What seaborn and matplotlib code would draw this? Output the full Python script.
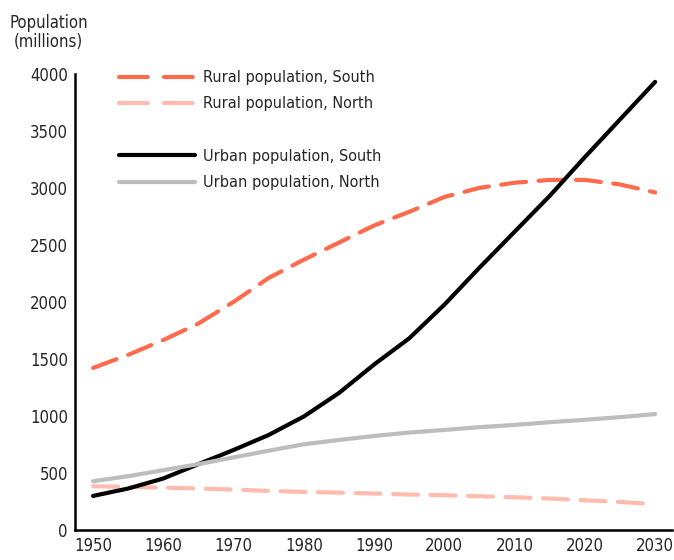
import pandas as pd
import matplotlib.pyplot as plt
import matplotlib.lines as mlines
import seaborn as sns

# Data (millions)
years = list(range(1950, 2031, 5))
rural_south = [1420, 1535, 1665, 1810, 2000, 2210, 2370, 2520, 2670, 2790,
               2920, 3000, 3045, 3070, 3070, 3030, 2960]
rural_north = [382, 376, 370, 362, 353, 341, 332, 326, 318, 309,
               303, 294, 285, 274, 259, 244, 224]
urban_south = [297, 362, 450, 576, 700, 832, 994, 1200, 1450, 1680,
               1975, 2300, 2615, 2930, 3270, 3600, 3930]
urban_north = [426, 470, 523, 576, 635, 694, 750, 788, 823, 853,
               876, 900, 920, 944, 965, 988, 1015]

labels = ["Rural population, South", "Rural population, North",
          "Urban population, South", "Urban population, North"]

df = pd.DataFrame({
    "year": years * 4,
    "pop": rural_south + rural_north + urban_south + urban_north,
    "series": sum([[lab] * len(years) for lab in labels], []),
})

dash = (6.0, 3.0)
palette = {labels[0]: "#ff6a4d", labels[1]: "#ffbcae",
           labels[2]: "#000000", labels[3]: "#bdbdbd"}
dashes = {labels[0]: dash, labels[1]: dash,
          labels[2]: "", labels[3]: ""}

sns.set_style("white")
plt.rcParams['font.family'] = ['DejaVu Sans']
plt.rcParams['font.stretch'] = 'condensed'

fig = plt.figure(figsize=(6.74, 5.6), dpi=100)
ax = fig.add_axes([0.111, 0.054, 0.886, 0.814])

sns.lineplot(data=df, x="year", y="pop", hue="series", style="series",
             palette=palette, dashes=dashes, linewidth=3, legend=False, ax=ax,
             dash_capstyle="round", solid_capstyle="round")

ax.set_xlim(1947.4, 2032.4)
ax.set_ylim(0, 4000)
ax.set_xticks(range(1950, 2031, 10))
ax.set_xticks(range(1955, 2031, 10), minor=True)
ax.set_yticks(range(0, 4001, 500))
ax.set_xlabel("")
ax.set_ylabel("")

for side in ["top", "right"]:
    ax.spines[side].set_visible(False)
for side in ["left", "bottom"]:
    ax.spines[side].set_linewidth(1.8)
    ax.spines[side].set_color("black")

ax.tick_params(axis="both", which="both", direction="in", width=1.5,
               color="black", labelsize=12, pad=5)
ax.tick_params(axis="y", length=10)
ax.tick_params(axis="x", which="both", length=8)

fig.text(0.072, 0.975, "Population\n(millions)", ha="center", va="top",
         fontsize=12, linespacing=1.1)

# legend with an empty row between the rural and urban groups
handles = []
for lab in labels[:2]:
    handles.append(mlines.Line2D([], [], color=palette[lab], linewidth=3,
                                 dashes=(6.9, 3.9), dash_capstyle="round"))
handles.append(mlines.Line2D([], [], color="none"))
for lab in labels[2:]:
    handles.append(mlines.Line2D([], [], color=palette[lab], linewidth=3,
                                 solid_capstyle="round"))
leg_labels = labels[:2] + [""] + labels[2:]

ax.legend(handles, leg_labels, loc="upper left", bbox_to_anchor=(0.05, 1.04),
          frameon=False, fontsize=11.6, handlelength=4.7, handletextpad=0.5,
          labelspacing=0.7)

fig.savefig("out.png", dpi=100)
